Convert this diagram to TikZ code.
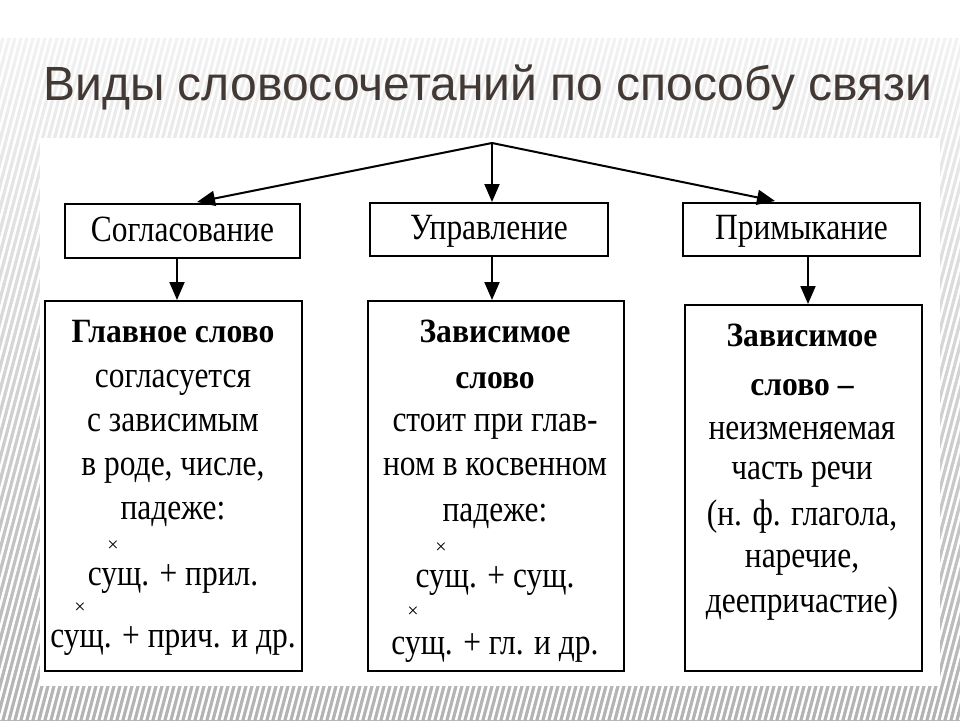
\documentclass[tikz,border=0pt]{standalone}
\usepackage{fontspec}
\setmainfont{Liberation Serif}
\newfontfamily\titlefont{Liberation Sans}
\newfontfamily\bodyfont[FakeStretch=0.85]{Liberation Serif}
\newfontfamily\headfont[FakeStretch=0.93]{Liberation Serif}
\usetikzlibrary{arrows.meta}
\definecolor{titlecol}{RGB}{67,57,52}
\begin{document}
\begin{tikzpicture}[x=1pt,y=-1pt,
  box/.style={draw=black,line width=2pt,fill=white,rectangle,inner sep=0pt,text height=26pt,text depth=6pt,font=\bodyfont\fontsize{37}{40}\selectfont},
  arr/.style={line width=2pt,-{Triangle[length=18pt,width=15pt]}},
  body/.style={font=\bodyfont\fontsize{37}{40}\selectfont,anchor=base,inner sep=0pt},
  head/.style={font=\headfont\bfseries\fontsize{34}{40}\selectfont,anchor=base,inner sep=0pt},
  crossmk/.style={font=\fontsize{20}{20}\selectfont,anchor=base,inner sep=0pt}]
\useasboundingbox (0,0) rectangle (960,720);
\fill[white] (0,0) rectangle (960,720);
% striped background
\begin{scope}
\clip (0,38) rectangle (960,720);
\shade[top color=gray!10,bottom color=gray!60] (0,38) rectangle (960,720);
\foreach \i in {-300,-294,...,960} \draw[white,line width=2.4pt] (\i,720) -- (\i+180,38);
\end{scope}
% white panel
\fill[white] (40,138) rectangle (940,686);
% title
\node[font=\titlefont\fontsize{48}{52}\selectfont,text=titlecol,anchor=base west,inner sep=0pt] (title) at (43,100) {Виды словосочетаний по способу связи};
% small boxes
\node[box,minimum width=235pt,minimum height=54pt] (sogl) at (182.5,231) {Согласование};
\node[box,minimum width=238pt,minimum height=53pt] (upr) at (489,229.5) {Управление};
\node[box,minimum width=237pt,minimum height=53pt] (prim) at (801.5,229.5) {Примыкание};
% big boxes
\node[box,minimum width=257pt,minimum height=370pt] (bigL) at (173.5,486) {};
\node[box,minimum width=256pt,minimum height=370pt] (bigM) at (496,486) {};
\node[box,minimum width=237pt,minimum height=366pt] (bigR) at (803.5,488) {};
% arrows
\coordinate (apex) at (492,143);
\coordinate (tipL) at (197,202);
\coordinate (tipR) at (775,201);
\draw[arr] (apex) -- (tipL);
\draw[arr] (apex) -- (tipR);
\draw[arr] (apex) -- (upr.north -| apex);
\coordinate (xL) at (177,0);
\coordinate (xM) at (492,0);
\coordinate (xR) at (808,0);
\draw[arr] (sogl.south -| xL) -- (bigL.north -| xL);
\draw[arr] (upr.south -| xM) -- (bigM.north -| xM);
\draw[arr] (prim.south -| xR) -- (bigR.north -| xR);
% left box text
\node[head] (l1) at (173,342) {Главное слово};
\node[body] (l2) at (173,387) {согласуется};
\node[body] (l3) at (173,431) {с зависимым};
\node[body] (l4) at (173,475) {в роде, числе,};
\node[body] (l5) at (173,519) {падеже:};
\node[crossmk] (l6) at (113,551) {×};
\node[body] (l7) at (173,585) {сущ. + прил.};
\node[crossmk] (l8) at (80,613) {×};
\node[body] (l9) at (173,647) {сущ. + прич. и др.};
% middle box text
\node[head] (m1) at (495,342) {Зависимое};
\node[head] (m2) at (495,388) {слово};
\node[body] (m3) at (495,431) {стоит при глав-};
\node[body] (m4) at (495,475) {ном в косвенном};
\node[body] (m5) at (495,521) {падеже:};
\node[crossmk] (m6) at (441,553) {×};
\node[body] (m7) at (495,587) {сущ. + сущ.};
\node[crossmk] (m8) at (413,617) {×};
\node[body] (m9) at (495,654) {сущ. + гл. и др.};
% right box text
\node[head] (r1) at (802,346) {Зависимое};
\node[head] (r2) at (802,395) {слово –};
\node[body] (r3) at (802,439) {неизменяемая};
\node[body] (r4) at (802,479) {часть речи};
\node[body] (r5) at (802,525) {(н. ф. глагола,};
\node[body] (r6) at (802,567) {наречие,};
\node[body] (r7) at (802,612) {деепричастие)};
\end{tikzpicture}
\end{document}
